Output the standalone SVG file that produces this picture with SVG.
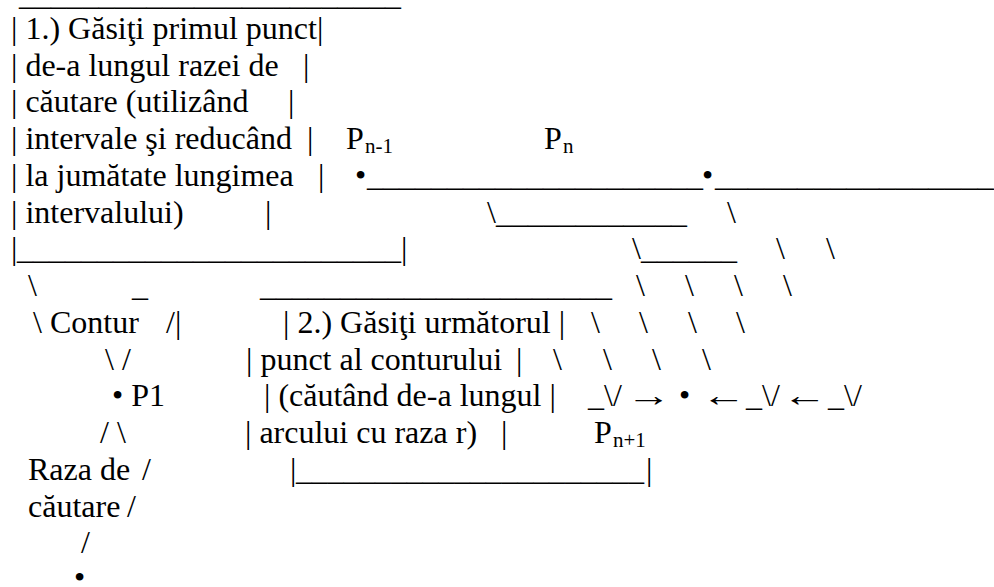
<svg xmlns="http://www.w3.org/2000/svg" width="994" height="587" viewBox="0 0 994 587">
<style>
text { font-family: "Liberation Serif", "Times New Roman", serif; font-size: 32px; fill: #000; }
.sub { font-size: 21px; }
</style>
<rect width="994" height="587" fill="#fff"/>
<g transform="translate(0,-2)">
<g id="box1">
  <text x="19" y="7" textLength="382" lengthAdjust="spacingAndGlyphs">________________________</text>
  <text x="11" y="40.75">| 1.) Găsiţi primul punct|</text>
  <text x="11" y="77.5">| de-a lungul razei de</text><text x="303" y="77.5">|</text>
  <text x="11" y="114.25">| căutare (utilizând</text><text x="288" y="114.25">|</text>
  <text x="11" y="151">| intervale şi reducând</text><text x="307" y="151">|</text>
  <text x="11" y="187.75">| la jumătate lungimea</text><text x="318" y="187.75">|</text>
  <text x="11" y="224.5">| intervalului)</text><text x="265" y="224.5">|</text>
  <text x="11" y="261.25">|</text>
  <text x="17" y="261.25" textLength="384" lengthAdjust="spacingAndGlyphs">________________________</text>
  <text x="401" y="261.25">|</text>
</g>
<g id="box2">
  <text x="260" y="298" textLength="352" lengthAdjust="spacingAndGlyphs">______________________</text>
  <text x="283" y="334.75">| 2.) Găsiţi următorul |</text>
  <text x="246" y="371.5">| punct al conturului</text><text x="516" y="371.5">|</text>
  <text x="264" y="408.25">| (căutând de-a lungul |</text>
  <text x="245" y="445">| arcului cu raza r)</text><text x="501" y="445">|</text>
  <text x="290" y="481.75">|</text>
  <text x="296" y="481.75" textLength="348" lengthAdjust="spacingAndGlyphs">______________________</text>
  <text x="646" y="481.75">|</text>
</g>
<g id="contour-label">
  <text x="50" y="334.75">Contur</text>
</g>
<g id="search-ray-label">
  <text x="28" y="481.75">Raza de</text>
  <text x="28" y="518.5">căutare</text>
</g>
<g id="p1">
  <text x="112" y="408.25">• P1</text>
</g>
<g id="start-point">
  <text x="74" y="590">•</text>
</g>
<g id="pn-1">
  <text x="346" y="151">P</text><text class="sub" x="365" y="155">n-1</text>
  <text x="355" y="187.75">•</text>
</g>
<g id="pn">
  <text x="544" y="151">P</text><text class="sub" x="563" y="155">n</text>
  <text x="702" y="187.75">•</text>
</g>
<g id="pn+1">
  <text x="679" y="408.25">•</text>
  <text x="594" y="445">P</text><text class="sub" x="613" y="449">n+1</text>
</g>
<g id="connectors">
  <text x="28" y="298">\</text>
  <text x="132" y="298">_</text>
  <text x="33" y="334.75">\</text>
  <text x="166" y="334.75">/|</text>
  <text x="105" y="371.5">\ /</text>
  <text x="100" y="445">/ \</text>
  <text x="142" y="481.75">/</text>
  <text x="127" y="518.5">/</text>
  <text x="81" y="555.25">/</text>
  <text x="367" y="187.75" textLength="336" lengthAdjust="spacingAndGlyphs">_____________________</text>
  <text x="715" y="187.75" textLength="279" lengthAdjust="spacingAndGlyphs">_________________</text>
  <text x="487" y="224.5">\</text>
  <text x="496" y="224.5" textLength="191" lengthAdjust="spacingAndGlyphs">____________</text>
  <text x="727" y="224.5">\</text>
  <text x="632" y="261.25">\</text>
  <text x="641" y="261.25" textLength="96" lengthAdjust="spacingAndGlyphs">______</text>
  <text x="776" y="261.25">\</text>
  <text x="826" y="261.25">\</text>
  <text x="636" y="298">\</text><text x="685" y="298">\</text><text x="734" y="298">\</text><text x="783" y="298">\</text>
  <text x="591" y="334.75">\</text><text x="639" y="334.75">\</text><text x="688" y="334.75">\</text><text x="736" y="334.75">\</text>
  <text x="553" y="371.5">\</text><text x="603" y="371.5">\</text><text x="652" y="371.5">\</text><text x="702" y="371.5">\</text>
  <text x="588" y="408.25">_\/</text>
  <text transform="translate(626,408.25) scale(1.4,1)">→</text>
  <text transform="translate(701,408.25) scale(1.4,1)">←</text>
  <text x="746" y="408.25">_\/</text>
  <text transform="translate(782,408.25) scale(1.4,1)">←</text>
  <text x="828" y="408.25">_\/</text>
</g>
</g>
</svg>
